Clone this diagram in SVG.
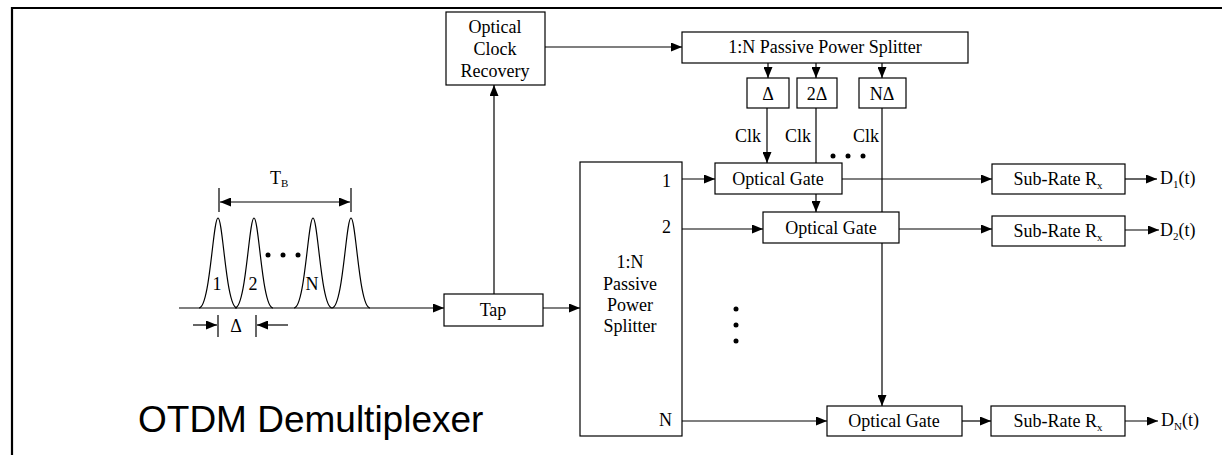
<svg xmlns="http://www.w3.org/2000/svg" width="1222" height="455" viewBox="0 0 1222 455">
<style>
.box{fill:#fff;stroke:#000;stroke-width:1.2}
.ln{fill:none;stroke:#000;stroke-width:1.2}
.t{font-family:"Liberation Serif","Times New Roman",serif;font-size:18px;fill:#000}
.c{text-anchor:middle}
.e{text-anchor:end}
.big{font-family:"Liberation Sans",Arial,sans-serif;font-size:37px;fill:#000}
.dot{fill:#000}
</style>
<defs>
<marker id="ah" markerUnits="userSpaceOnUse" markerWidth="11" markerHeight="9" refX="11" refY="4.5" orient="auto-start-reverse">
<path d="M0,0 L11,4.5 L0,9 z" fill="#000"/>
</marker>
</defs>
<rect width="1222" height="455" fill="#fff"/>
<g id="frame">
<path d="M12,455 V8 H1222" fill="none" stroke="#000" stroke-width="2.2"/>
</g>
<g id="connectors">
<path class="ln" d="M545,47 H682" marker-end="url(#ah)"/>
<path class="ln" d="M494,294 V85" marker-end="url(#ah)"/>
<path class="ln" d="M179,308 H444" marker-end="url(#ah)"/>
<path class="ln" d="M543,308 H580" marker-end="url(#ah)"/>
<path class="ln" d="M768,63 V78" marker-end="url(#ah)"/>
<path class="ln" d="M816,63 V78" marker-end="url(#ah)"/>
<path class="ln" d="M882,63 V78" marker-end="url(#ah)"/>
<path class="ln" d="M767,108 V163" marker-end="url(#ah)"/>
<path class="ln" d="M816,108 V163"/>
<path class="ln" d="M816,194 V212" marker-end="url(#ah)"/>
<path class="ln" d="M882,108 V406" marker-end="url(#ah)"/>
<path class="ln" d="M682,179 H715" marker-end="url(#ah)"/>
<path class="ln" d="M682,229 H763" marker-end="url(#ah)"/>
<path class="ln" d="M682,421 H827" marker-end="url(#ah)"/>
<path class="ln" d="M842,179 H992" marker-end="url(#ah)"/>
<path class="ln" d="M899,229 H992" marker-end="url(#ah)"/>
<path class="ln" d="M1125,179 H1157" marker-end="url(#ah)"/>
<path class="ln" d="M1125,230 H1159" marker-end="url(#ah)"/>
<path class="ln" d="M962,421 H991" marker-end="url(#ah)"/>
<path class="ln" d="M1125,421 H1158" marker-end="url(#ah)"/>
</g>
<g id="pulses">
<path class="ln" d="M199,308 C210,308 213,218 218,218 C223,218 226,308 237,308"/>
<path class="ln" d="M235,308 C246,308 249,218 254,218 C259,218 262,308 273,308"/>
<path class="ln" d="M294,308 C305,308 308,218 313,218 C318,218 321,308 332,308"/>
<path class="ln" d="M332,308 C343,308 346,218 351,218 C356,218 359,308 370,308"/>
<text class="t c" x="217" y="290">1</text>
<text class="t c" x="253" y="290">2</text>
<text class="t c" x="312" y="290">N</text>
<circle class="dot" cx="268" cy="255" r="2.5"/>
<circle class="dot" cx="283" cy="255" r="2.5"/>
<circle class="dot" cx="298" cy="255" r="2.5"/>
<path class="ln" d="M219,188 V212 M351,188 V212"/>
<path class="ln" d="M220,202 H350" marker-start="url(#ah)" marker-end="url(#ah)"/>
<text class="t" x="270" y="184">T<tspan font-size="11" dy="3">B</tspan></text>
<path class="ln" d="M193,325 H217" marker-end="url(#ah)"/>
<path class="ln" d="M218,315 V337 M256,315 V337"/>
<path class="ln" d="M288,325 H257" marker-end="url(#ah)"/>
<text class="t c" x="236" y="332">Δ</text>
</g>
<g id="clock-recovery">
<rect class="box" x="446" y="12" width="99" height="73"/>
<text class="t c" x="495" y="33">Optical</text>
<text class="t c" x="495" y="55">Clock</text>
<text class="t c" x="495" y="77">Recovery</text>
</g>
<g id="clock-splitter">
<rect class="box" x="682" y="32" width="286" height="31"/>
<text class="t c" x="825" y="53">1:N Passive Power Splitter</text>
</g>
<g id="delay1">
<rect class="box" x="747" y="78" width="42" height="30"/>
<text class="t c" x="768" y="100">Δ</text>
</g>
<g id="delay2">
<rect class="box" x="797" y="78" width="40" height="30"/>
<text class="t c" x="817" y="100">2Δ</text>
</g>
<g id="delayN">
<rect class="box" x="859" y="78" width="47" height="30"/>
<text class="t c" x="882" y="100">NΔ</text>
</g>
<g id="clk-labels">
<text class="t" x="735" y="142">Clk</text>
<text class="t" x="785" y="142">Clk</text>
<text class="t" x="853" y="142">Clk</text>
<circle class="dot" cx="833" cy="156" r="2.5"/>
<circle class="dot" cx="848" cy="156" r="2.5"/>
<circle class="dot" cx="863" cy="156" r="2.5"/>
</g>
<g id="tap">
<rect class="box" x="444" y="294" width="99" height="32"/>
<text class="t c" x="493" y="316">Tap</text>
</g>
<g id="data-splitter">
<rect class="box" x="580" y="162" width="102" height="274"/>
<text class="t c" x="630" y="268">1:N</text>
<text class="t c" x="630" y="290">Passive</text>
<text class="t c" x="630" y="311">Power</text>
<text class="t c" x="630" y="332">Splitter</text>
<text class="t e" x="671" y="187">1</text>
<text class="t e" x="671" y="233">2</text>
<text class="t e" x="672" y="426">N</text>
<circle class="dot" cx="736" cy="309" r="2.5"/>
<circle class="dot" cx="736" cy="325" r="2.5"/>
<circle class="dot" cx="736" cy="341" r="2.5"/>
</g>
<g id="gate1">
<rect class="box" x="715" y="163" width="127" height="31"/>
<text class="t c" x="778" y="185">Optical Gate</text>
</g>
<g id="gate2">
<rect class="box" x="763" y="212" width="136" height="31"/>
<text class="t c" x="831" y="234">Optical Gate</text>
</g>
<g id="gateN">
<rect class="box" x="827" y="406" width="135" height="30"/>
<text class="t c" x="894" y="427">Optical Gate</text>
</g>
<g id="rx1">
<rect class="box" x="992" y="164" width="133" height="30"/>
<text class="t c" x="1058" y="185">Sub-Rate R<tspan font-size="11" dy="4">x</tspan></text>
</g>
<g id="rx2">
<rect class="box" x="992" y="216" width="133" height="30"/>
<text class="t c" x="1058" y="237">Sub-Rate R<tspan font-size="11" dy="4">x</tspan></text>
</g>
<g id="rxN">
<rect class="box" x="991" y="406" width="134" height="30"/>
<text class="t c" x="1058" y="427">Sub-Rate R<tspan font-size="11" dy="4">x</tspan></text>
</g>
<g id="outputs">
<text class="t" x="1160" y="184">D<tspan font-size="11" dy="4">1</tspan><tspan dy="-4">(t)</tspan></text>
<text class="t" x="1160" y="236">D<tspan font-size="11" dy="4">2</tspan><tspan dy="-4">(t)</tspan></text>
<text class="t" x="1161" y="426">D<tspan font-size="11" dy="4">N</tspan><tspan dy="-4">(t)</tspan></text>
</g>
<g id="title">
<text class="big" x="138" y="432">OTDM Demultiplexer</text>
</g>
</svg>
